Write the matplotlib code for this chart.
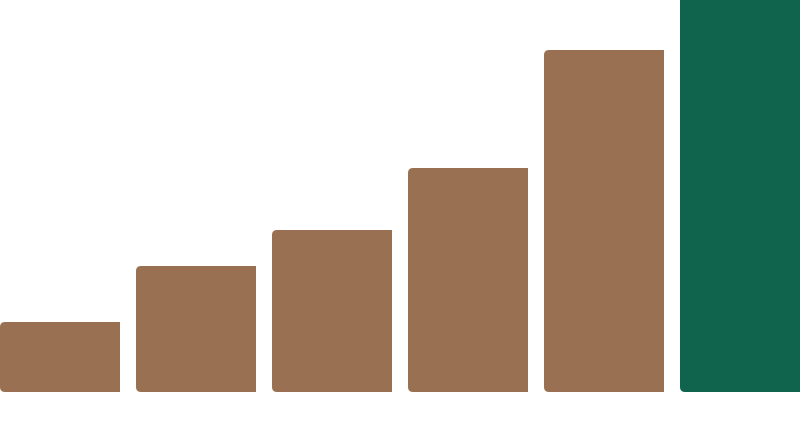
import matplotlib.pyplot as plt
from matplotlib.path import Path
from matplotlib.patches import PathPatch

# bar values (last one runs off the top)
categories = ["A", "B", "C", "D", "E", "F"]
values = [70, 126, 162, 224, 342, 410]
colors = ["#9a7052"] * 5 + ["#10634c"]

fig = plt.figure(figsize=(8, 4.36), dpi=100)
ax = fig.add_axes([0, 0, 1, 1])
ax.set_xlim(-60 / 136, 740 / 136)
ax.set_ylim(-44, 392)
ax.axis("off")

width = 120 / 136
# corner radius of about 5 px, turned into data units
rx = 5 * (ax.get_xlim()[1] - ax.get_xlim()[0]) / 800
ry = 5 * (ax.get_ylim()[1] - ax.get_ylim()[0]) / 436


def left_rounded_bar(x0, h, color):
    x1 = x0 + width
    verts = [
        (x0 + rx, 0), (x1, 0), (x1, h), (x0 + rx, h),
        (x0, h), (x0, h - ry),
        (x0, ry),
        (x0, 0), (x0 + rx, 0),
        (x0 + rx, 0),
    ]
    codes = [
        Path.MOVETO, Path.LINETO, Path.LINETO, Path.LINETO,
        Path.CURVE3, Path.CURVE3,
        Path.LINETO,
        Path.CURVE3, Path.CURVE3,
        Path.CLOSEPOLY,
    ]
    ax.add_patch(PathPatch(Path(verts, codes), facecolor=color,
                           edgecolor="none"))


for i, v in enumerate(values):
    left_rounded_bar(i - width / 2, v, colors[i])

fig.savefig("out.png", dpi=100)
